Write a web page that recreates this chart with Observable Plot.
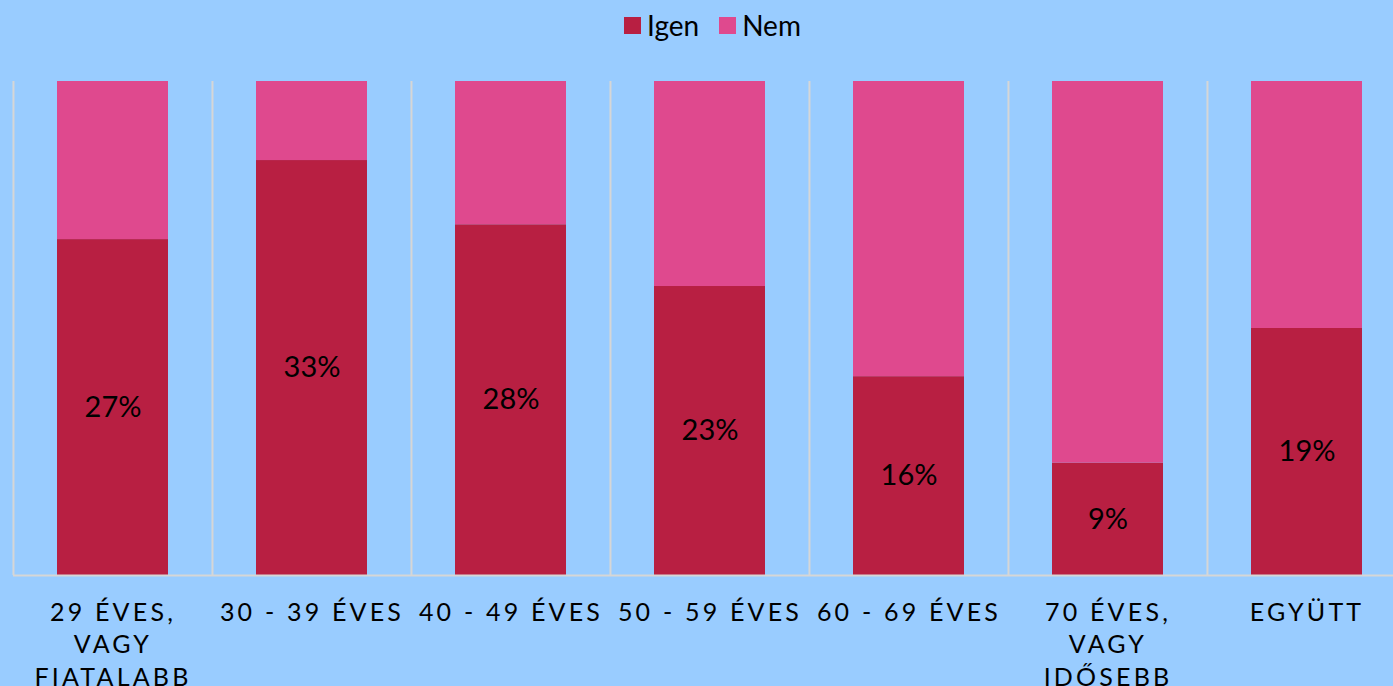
<!DOCTYPE html>
<html>
<head>
<meta charset="utf-8">
<script src="https://cdn.jsdelivr.net/npm/d3@7"></script>
<script src="https://cdn.jsdelivr.net/npm/@observablehq/plot@0.6"></script>
<style>
  html, body { margin: 0; padding: 0; background: #99CCFF; overflow: hidden; }
  body { width: 1393px; height: 686px; font-family: Lato, "Open Sans", sans-serif; }
  #legend { height: 50px; display: flex; justify-content: center; align-items: center; padding-left: 32px; box-sizing: border-box; font-size: 28px; color: #000; }
  #legend .item { display: flex; align-items: center; margin: 0 10px; }
  #legend .sw { width: 17px; height: 17px; margin-right: 6px; display: inline-block; }
  #chart svg { display: block; overflow: hidden; }
  g[font-size="25"] text { letter-spacing: 3.2px; }
</style>
</head>
<body>
<div id="legend"></div>
<div id="chart"></div>
<script>
// Categories (age groups)
const categories = [
  "29 ÉVES,\nVAGY\nFIATALABB",
  "30 - 39 ÉVES",
  "40 - 49 ÉVES",
  "50 - 59 ÉVES",
  "60 - 69 ÉVES",
  "70 ÉVES,\nVAGY\nIDŐSEBB",
  "EGYÜTT"
];
// "Igen" share (%)
const igen = [27.2, 33.6, 28.4, 23.4, 16.1, 9.1, 20.0];
// Data labels shown inside the bars
const igenLabels = ["27%", "33%", "28%", "23%", "16%", "9%", "19%"];
// "Nem" = remainder up to 100%
const nem = igen.map(v => 100 - v);
const seriesNames = ["Igen", "Nem"];
const seriesColors = ["#B81F42", "#DF498E"];

const rows = categories.map((c, i) => ({cat: c, igen: igen[i], nem: nem[i], label: igenLabels[i]}));

// Legend
const leg = document.getElementById("legend");
seriesNames.forEach((n, i) => {
  const it = document.createElement("div");
  it.className = "item";
  const sw = document.createElement("span");
  sw.className = "sw";
  sw.style.background = seriesColors[i];
  it.appendChild(sw);
  it.appendChild(document.createTextNode(n));
  leg.appendChild(it);
});

const left = 12.7, right = 1406;
const step = (right - left) / categories.length;

const chart = Plot.plot({
  width: 1393,
  height: 636,
  marginTop: 31,
  marginBottom: 111,
  marginLeft: 13,
  marginRight: 0,
  style: {background: "transparent", fontFamily: "Lato, 'Open Sans', sans-serif", color: "#000"},
  x: {domain: categories, range: [left, right], paddingInner: 0.444, paddingOuter: 0.222, axis: null},
  y: {domain: [0, 40], clamp: true, axis: null},
  marks: [
    Plot.ruleX(rows, {x: "cat", dx: -step / 2, stroke: "#D6D6D6", strokeWidth: 2}),
    Plot.barY(rows, {x: "cat", y1: 0, y2: "igen", fill: seriesColors[0]}),
    Plot.barY(rows, {x: "cat", y1: "igen", y2: 100, fill: seriesColors[1]}),
    Plot.ruleY([0], {stroke: "#D6D6D6", strokeWidth: 2}),
    Plot.text(rows, {x: "cat", y: d => d.igen / 2, text: "label", fontSize: 29, fill: "#000"}),
    Plot.text(rows, {x: "cat", y: 0, text: "cat", fontSize: 25, fill: "#000", lineAnchor: "top", lineHeight: 1.3, dy: 22})
  ]
});
document.getElementById("chart").appendChild(chart);
</script>
</body>
</html>
